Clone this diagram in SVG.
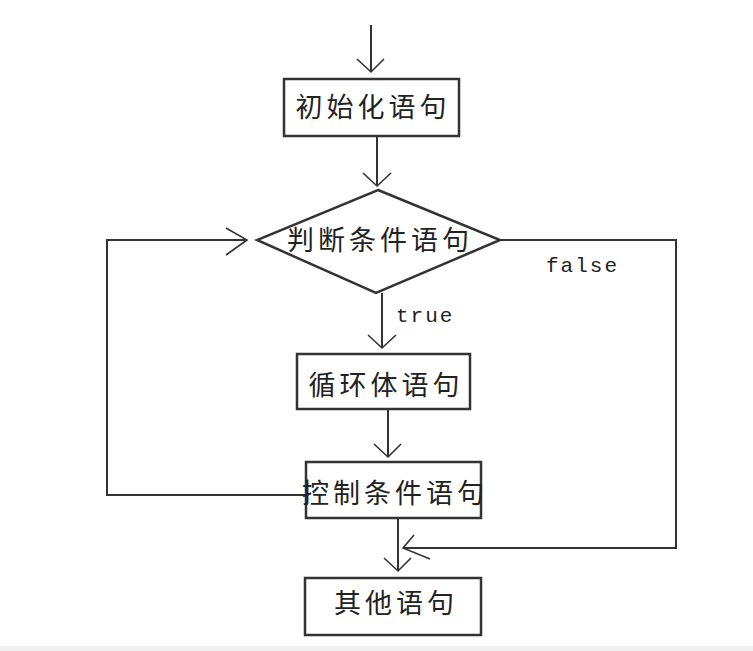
<svg xmlns="http://www.w3.org/2000/svg" width="753" height="651" viewBox="0 0 753 651">
<style>
.ln{fill:none;stroke:#333;stroke-width:2}
.bx{fill:#fff;stroke:#333;stroke-width:2.5}
.ah{fill:none;stroke:#333;stroke-width:1.6}
.t{font-family:"Noto Sans CJK SC","Noto Sans CJK TC",sans-serif;font-size:27px;letter-spacing:4px;fill:#222;text-anchor:middle}
.m{font-family:"Liberation Mono","DejaVu Sans Mono",monospace;font-size:21px;letter-spacing:2px;fill:#222}
</style>
<rect x="0" y="0" width="753" height="651" fill="#fff"/>
<rect x="0" y="646" width="753" height="5" fill="#efefef"/>
<g id="connectors">
  <line class="ln" x1="371" y1="25" x2="371" y2="72"/>
  <polyline class="ah" points="357,59 371,72 384,59"/>
  <line class="ln" x1="377" y1="136" x2="377" y2="186"/>
  <polyline class="ah" points="363,173 377,186 391,173"/>
  <line class="ln" x1="382" y1="293" x2="382" y2="348"/>
  <polyline class="ah" points="368,335 382,348 396,335"/>
  <line class="ln" x1="388" y1="409" x2="388" y2="457"/>
  <polyline class="ah" points="374,444 388,457 401,444"/>
  <line class="ln" x1="398" y1="518" x2="398" y2="571"/>
  <polyline class="ah" points="384,558 398,571 411,558"/>
  <polyline class="ln" points="305,495 107,495 107,240 245,240"/>
  <polyline class="ah" points="226,228 247,240 226,255"/>
  <polyline class="ln" points="500,240 676,240 676,548 404,548"/>
  <polyline class="ah" points="414,535 403,548 430,559"/>
  <text class="m" x="546" y="272">false</text>
  <text class="m" x="396" y="322">true</text>
</g>
<g id="start"><rect class="bx" x="284" y="79" width="175" height="57"/><text class="t" x="373" y="117">初始化语句</text></g>
<g id="cond"><polygon class="bx" points="378,190 500,240 376,293 257,240"/><text class="t" x="380" y="250">判断条件语句</text></g>
<g id="body"><rect class="bx" x="297" y="354" width="173" height="55"/><text class="t" x="386" y="395">循环体语句</text></g>
<g id="ctrl"><rect class="bx" x="306" y="462" width="175" height="56"/><text class="t" x="395" y="503">控制条件语句</text></g>
<g id="other"><rect class="bx" x="305" y="578" width="176" height="57"/><text class="t" x="396" y="613">其他语句</text></g>
</svg>
